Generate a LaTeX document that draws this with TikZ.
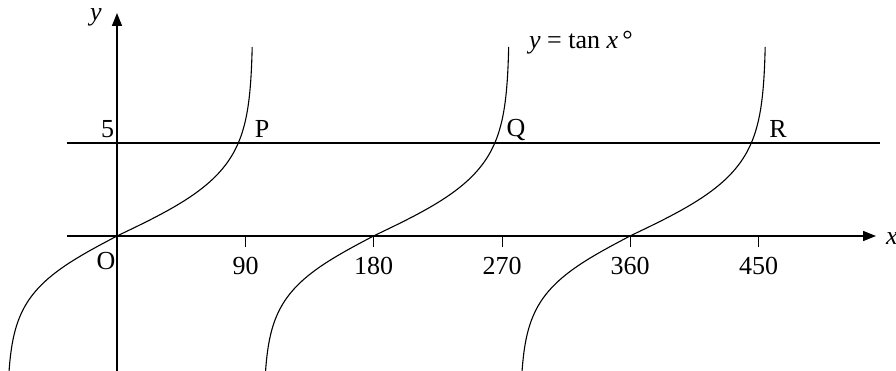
\documentclass[tikz,border=0pt]{standalone}
\usepackage{fontspec}
\setmainfont{Liberation Serif}
\usetikzlibrary{arrows.meta,positioning}

\begin{document}
\begin{tikzpicture}[x=1pt,y=-1pt,>={Triangle[length=13pt,width=10pt]},line join=round]
\path[fill=white] (0,0) rectangle (896,371);
\clip (0,0) rectangle (896,371);
\tikzset{axis/.style={draw=black,line width=1.5pt},tick/.style={draw=black,line width=1pt},curve/.style={draw=black,line width=1.1pt},lbl/.style={font=\fontsize{26}{30}\selectfont,inner sep=0pt}}
\coordinate (o) at (117,236);
\coordinate (xl) at (67,236); \coordinate (xr) at (876,236);
\coordinate (yb) at (117,371); \coordinate (yt) at (117,13);
\coordinate (fl) at (67,143); \coordinate (fr) at (880,143);
\draw[axis,->] (xl) -- (xr);
\draw[axis,->] (yb) -- (yt);
\draw[axis] (fl) -- (fr);
\foreach \d/\px in {90/245.5,180/373.5,270/502,360/630,450/758.5} {
  \draw[tick] (\px,236) -- (\px,247);
  \node[lbl] (t\d) at (\px,266) {\d};
}
% three branches of the tan curve
\foreach \cx in {117,373.5,630} {
  \draw[curve,shift={(\cx,236)}] plot[domain=137:0,samples=50] ({-110*tanh(\x/58)},{\x}) -- plot[domain=0:189,samples=60] ({136*tanh(\x/65)},{-\x});
}
\node[lbl] (five) at (107.5,129) {5};
\node[lbl] (P) at (262,129) {P};
\node[lbl] (Q) at (516,130) {Q};
\node[lbl] (R) at (778,129) {R};
\node[lbl] (O) at (106,261) {O};
\node[lbl] (ylab) at (96,17) {\itshape y};
\node[lbl,anchor=west] (xlab) at (886,239) {\itshape x};
\node[lbl] (eqn) at (581,43) {\itshape y\/\upshape\ = tan \itshape x\/\upshape\,°};
\end{tikzpicture}
\end{document}
